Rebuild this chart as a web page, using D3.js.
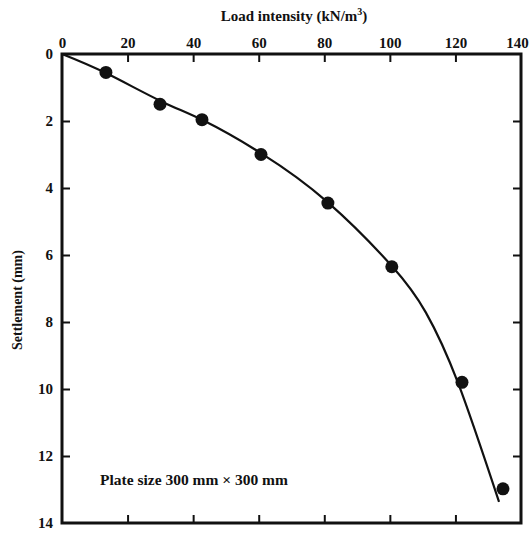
<!DOCTYPE html>
<html>
<head>
<meta charset="utf-8">
<script src="https://cdn.jsdelivr.net/npm/d3@7"></script>
<style>
  html, body { margin: 0; padding: 0; background: #fff; }
  svg { display: block; }
  text { font-family: "Liberation Serif", "Times New Roman", serif; fill: #111; }
</style>
</head>
<body>
<svg id="chart" width="530" height="537"></svg>
<script>
// ---- data ----
const loadIntensity = [13.4, 29.9, 42.7, 60.7, 81.1, 100.6, 122.0, 134.5];   // kN/m^2
const settlement    = [0.55, 1.50, 1.96, 3.00, 4.45, 6.35, 9.80, 12.98];     // mm
const curveLoad       = [0, 13.4, 30, 43, 61, 81, 100.6, 111, 120.8, 133.3];
const curveSettlement = [0, 0.57, 1.40, 1.98, 2.98, 4.42, 6.33, 7.72, 9.82, 13.37];
const xTicks = [0, 20, 40, 60, 80, 100, 120, 140];
const yTicks = [0, 2, 4, 6, 8, 10, 12, 14];
const xTitle = "Load intensity (kN/m";
const xTitleSup = "3";
const yTitle = "Settlement (mm)";
const note = "Plate size 300 mm \u00d7 300 mm";

// ---- layout ----
const svg = d3.select("#chart");
const L = 62, R = 521, T = 54, B = 523;
const x = d3.scaleLinear().domain([0, 140]).range([L, R]);
const y = d3.scaleLinear().domain([0, 14]).range([T, B]);

// frame
svg.append("rect").attr("x", L).attr("y", T).attr("width", R - L).attr("height", B - T)
  .attr("fill", "none").attr("stroke", "#111").attr("stroke-width", 3);

// top axis with labels
const topAx = svg.append("g").attr("transform", `translate(0,${T})`)
  .call(d3.axisTop(x).tickValues(xTicks).tickSizeInner(-8).tickSizeOuter(0).tickPadding(6));
// left axis with labels
const leftAx = svg.append("g").attr("transform", `translate(${L},0)`)
  .call(d3.axisLeft(y).tickValues(yTicks).tickSizeInner(-8).tickSizeOuter(0).tickPadding(9));
// bottom + right: ticks only
const botAx = svg.append("g").attr("transform", `translate(0,${B})`)
  .call(d3.axisBottom(x).tickValues(xTicks.slice(1, -1)).tickSizeInner(-8).tickSizeOuter(0).tickFormat(""));
const rightAx = svg.append("g").attr("transform", `translate(${R},0)`)
  .call(d3.axisRight(y).tickValues(yTicks.slice(1, -1)).tickSizeInner(-8).tickSizeOuter(0).tickFormat(""));

[topAx, leftAx, botAx, rightAx].forEach(g => {
  g.select(".domain").remove();
  g.selectAll(".tick line").attr("stroke", "#111").attr("stroke-width", 2);
  g.selectAll(".tick text").attr("font-size", 15).attr("font-family", "Liberation Serif")
    .attr("fill", "#111").attr("font-weight", "bold");
});
topAx.selectAll(".tick line").filter(d => d === 0 || d === 140).remove();
leftAx.selectAll(".tick line").filter(d => d === 0 || d === 14).remove();
// keep the last top label inside the page
topAx.selectAll(".tick text").filter(d => d === 140).attr("dx", -4);

// titles
const tt = svg.append("text").attr("x", 294).attr("y", 21).attr("text-anchor", "middle")
  .attr("font-size", 15).attr("font-weight", "bold");
tt.append("tspan").text(xTitle);
tt.append("tspan").attr("font-size", 10).attr("dy", -6).text(xTitleSup);
tt.append("tspan").attr("dy", 6).text(")");

svg.append("text").attr("transform", `translate(22,300) rotate(-90)`)
  .attr("text-anchor", "middle").attr("font-size", 14).attr("font-weight", "bold").text(yTitle);

svg.append("text").attr("x", 100).attr("y", 485).attr("font-size", 15.5)
  .attr("font-weight", "bold").text(note);

// fitted curve
const curvePts = curveLoad.map((v, i) => [v, curveSettlement[i]]);
svg.append("path").datum(curvePts)
  .attr("d", d3.line().x(d => x(d[0])).y(d => y(d[1])).curve(d3.curveNatural))
  .attr("fill", "none").attr("stroke", "#111").attr("stroke-width", 2.2);

// points
svg.append("g").selectAll("circle").data(loadIntensity.map((v, i) => [v, settlement[i]]))
  .join("circle").attr("cx", d => x(d[0])).attr("cy", d => y(d[1])).attr("r", 6.5).attr("fill", "#111");
</script>
</body>
</html>
